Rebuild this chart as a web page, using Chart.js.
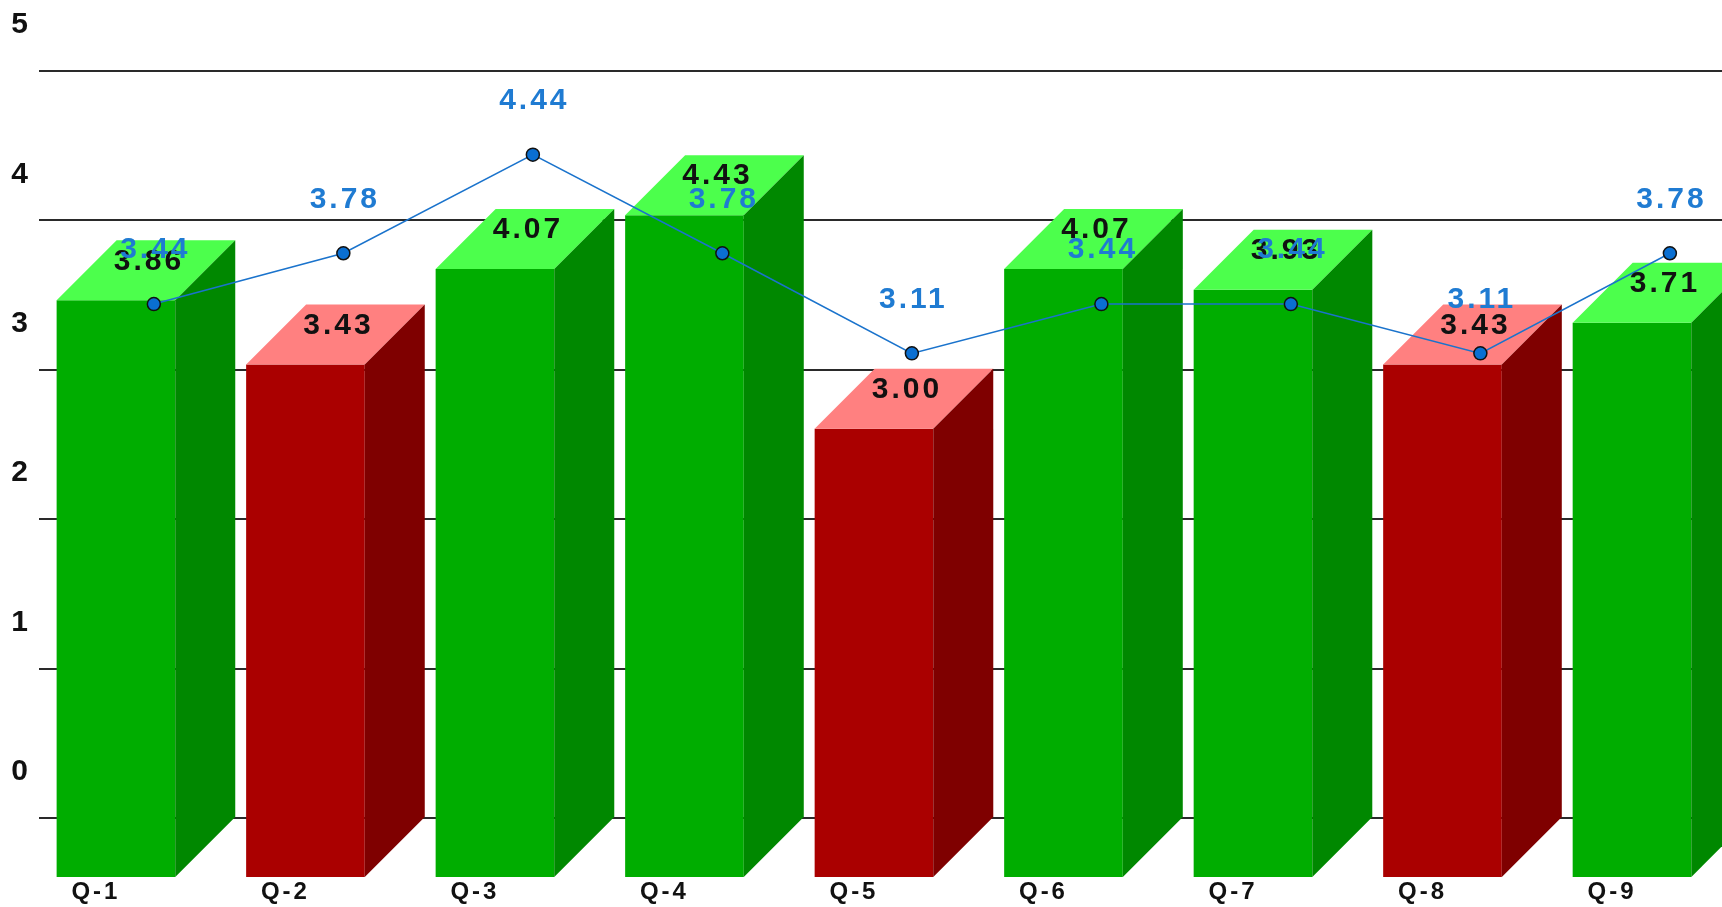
<!DOCTYPE html>
<html>
<head>
<meta charset="utf-8">
<script src="https://cdn.jsdelivr.net/npm/chart.js@4.4.1/dist/chart.umd.min.js"></script>
<style>
  html, body { margin: 0; padding: 0; background: #fff; }
  #wrap { width: 1722px; height: 907px; position: relative; }
</style>
</head>
<body>
<div id="wrap"><canvas id="chart"></canvas></div>
<script>
const CATEGORIES = ["Q-1", "Q-2", "Q-3", "Q-4", "Q-5", "Q-6", "Q-7", "Q-8", "Q-9"];
const BAR_VALUES = [3.86, 3.43, 4.07, 4.43, 3.00, 4.07, 3.93, 3.43, 3.71];
const LINE_VALUES = [3.44, 3.78, 4.44, 3.78, 3.11, 3.44, 3.44, 3.11, 3.78];
const Y_TICKS = [0, 1, 2, 3, 4, 5];

const FONT = '"Liberation Sans", Arial, sans-serif';
const DEPTH = 60;
const GOOD = { front: "#00ad00", side: "#008800", top: "#4cff4c" };
const BAD = { front: "#aa0000", side: "#7f0000", top: "#ff8080" };
const paletteFor = v => (v >= 3.5 ? GOOD : BAD);

// draws the top and right faces after the front faces, then the value labels
const bar3d = {
    id: "bar3d",
    beforeDraw(chart) {
        chart.ctx.letterSpacing = "3px";
    },
    afterDatasetDraw(chart, args) {
        if (args.index !== 0) return;
        const ctx = chart.ctx;
        ctx.save();
        args.meta.data.forEach((el, i) => {
            const p = paletteFor(BAR_VALUES[i]);
            const { x, y, base, width } = el.getProps(["x", "y", "base", "width"], true);
            const l = x - width / 2, r = x + width / 2;
            ctx.fillStyle = p.top;
            ctx.beginPath();
            ctx.moveTo(l, y);
            ctx.lineTo(l + DEPTH, y - DEPTH);
            ctx.lineTo(r + DEPTH, y - DEPTH);
            ctx.lineTo(r, y);
            ctx.closePath();
            ctx.fill();
            ctx.fillStyle = p.side;
            ctx.beginPath();
            ctx.moveTo(r, y);
            ctx.lineTo(r + DEPTH, y - DEPTH);
            ctx.lineTo(r + DEPTH, base - DEPTH);
            ctx.lineTo(r, base);
            ctx.closePath();
            ctx.fill();
        });
        ctx.restore();
    },
    afterDatasetsDraw(chart) {
        const ctx = chart.ctx;
        ctx.save();
        ctx.font = "bold 30px " + FONT;
        ctx.textAlign = "center";
        ctx.textBaseline = "middle";
        ctx.fillStyle = "#111";
        chart.getDatasetMeta(0).data.forEach((el, i) => {
            ctx.fillText(BAR_VALUES[i].toFixed(2), el.x + 33, el.y - 39);
        });
        ctx.fillStyle = "#1f7bd2";
        chart.getDatasetMeta(1).data.forEach((pt, i) => {
            ctx.fillText(LINE_VALUES[i].toFixed(2), pt.x + 1.5, pt.y - 54);
        });
        ctx.restore();
    }
};

new Chart(document.getElementById("chart"), {
    type: "bar",
    plugins: [bar3d],
    data: {
        datasets: [
            {
                type: "bar",
                label: "Score",
                data: BAR_VALUES.map((v, i) => ({ x: i, y: v })),
                backgroundColor: BAR_VALUES.map(v => paletteFor(v).front),
                borderWidth: 0,
                grouped: false,
                barPercentage: 0.626,
                categoryPercentage: 1,
                xAxisID: "x",
                yAxisID: "y",
                order: 2
            },
            {
                type: "line",
                label: "Average",
                data: LINE_VALUES.map((v, i) => ({ x: i, y: v })),
                borderColor: "#1a73cc",
                borderWidth: 1.5,
                pointRadius: 6.5,
                pointBackgroundColor: "#0a6fd2",
                pointBorderColor: "#111",
                pointBorderWidth: 1.5,
                tension: 0,
                xAxisID: "xb",
                yAxisID: "yb",
                order: 1
            }
        ]
    },
    options: {
        responsive: true,
        maintainAspectRatio: false,
        animation: false,
        layout: { autoPadding: false, padding: { top: 71, right: 0, bottom: 0, left: 0 } },
        plugins: {
            legend: { display: false },
            tooltip: { enabled: false }
        },
        scales: {
            x: {
                type: "linear",
                position: "bottom",
                offset: false,
                min: -0.406,
                max: 8.475,
                grid: { display: false, drawTicks: false, offset: false },
                border: { display: false },
                ticks: {
                    stepSize: 1,
                    includeBounds: false,
                    autoSkip: false,
                    maxRotation: 0,
                    padding: 1,
                    labelOffset: -20,
                    color: "#111",
                    font: { family: FONT, size: 24, weight: "bold" },
                    callback: v => CATEGORIES[v] ?? ""
                },
                afterFit: s => { s.height = 30; }
            },
            xb: {
                type: "linear",
                display: false,
                offset: false,
                min: -0.606,
                max: 8.275
            },
            y: {
                display: false,
                min: 0,
                max: 5.395
            },
            yb: {
                position: "left",
                min: -0.395,
                max: 5,
                grid: { color: "#2a2a2a", lineWidth: 2, drawTicks: false },
                border: { display: false },
                ticks: {
                    stepSize: 1,
                    includeBounds: false,
                    padding: 8,
                    labelOffset: -46,
                    color: "#111",
                    font: { family: FONT, size: 30, weight: "bold" },
                    callback: v => (Y_TICKS.includes(v) ? String(v) : "")
                },
                afterFit: s => { s.width = 39; }
            }
        }
    }
});
</script>
</body>
</html>
